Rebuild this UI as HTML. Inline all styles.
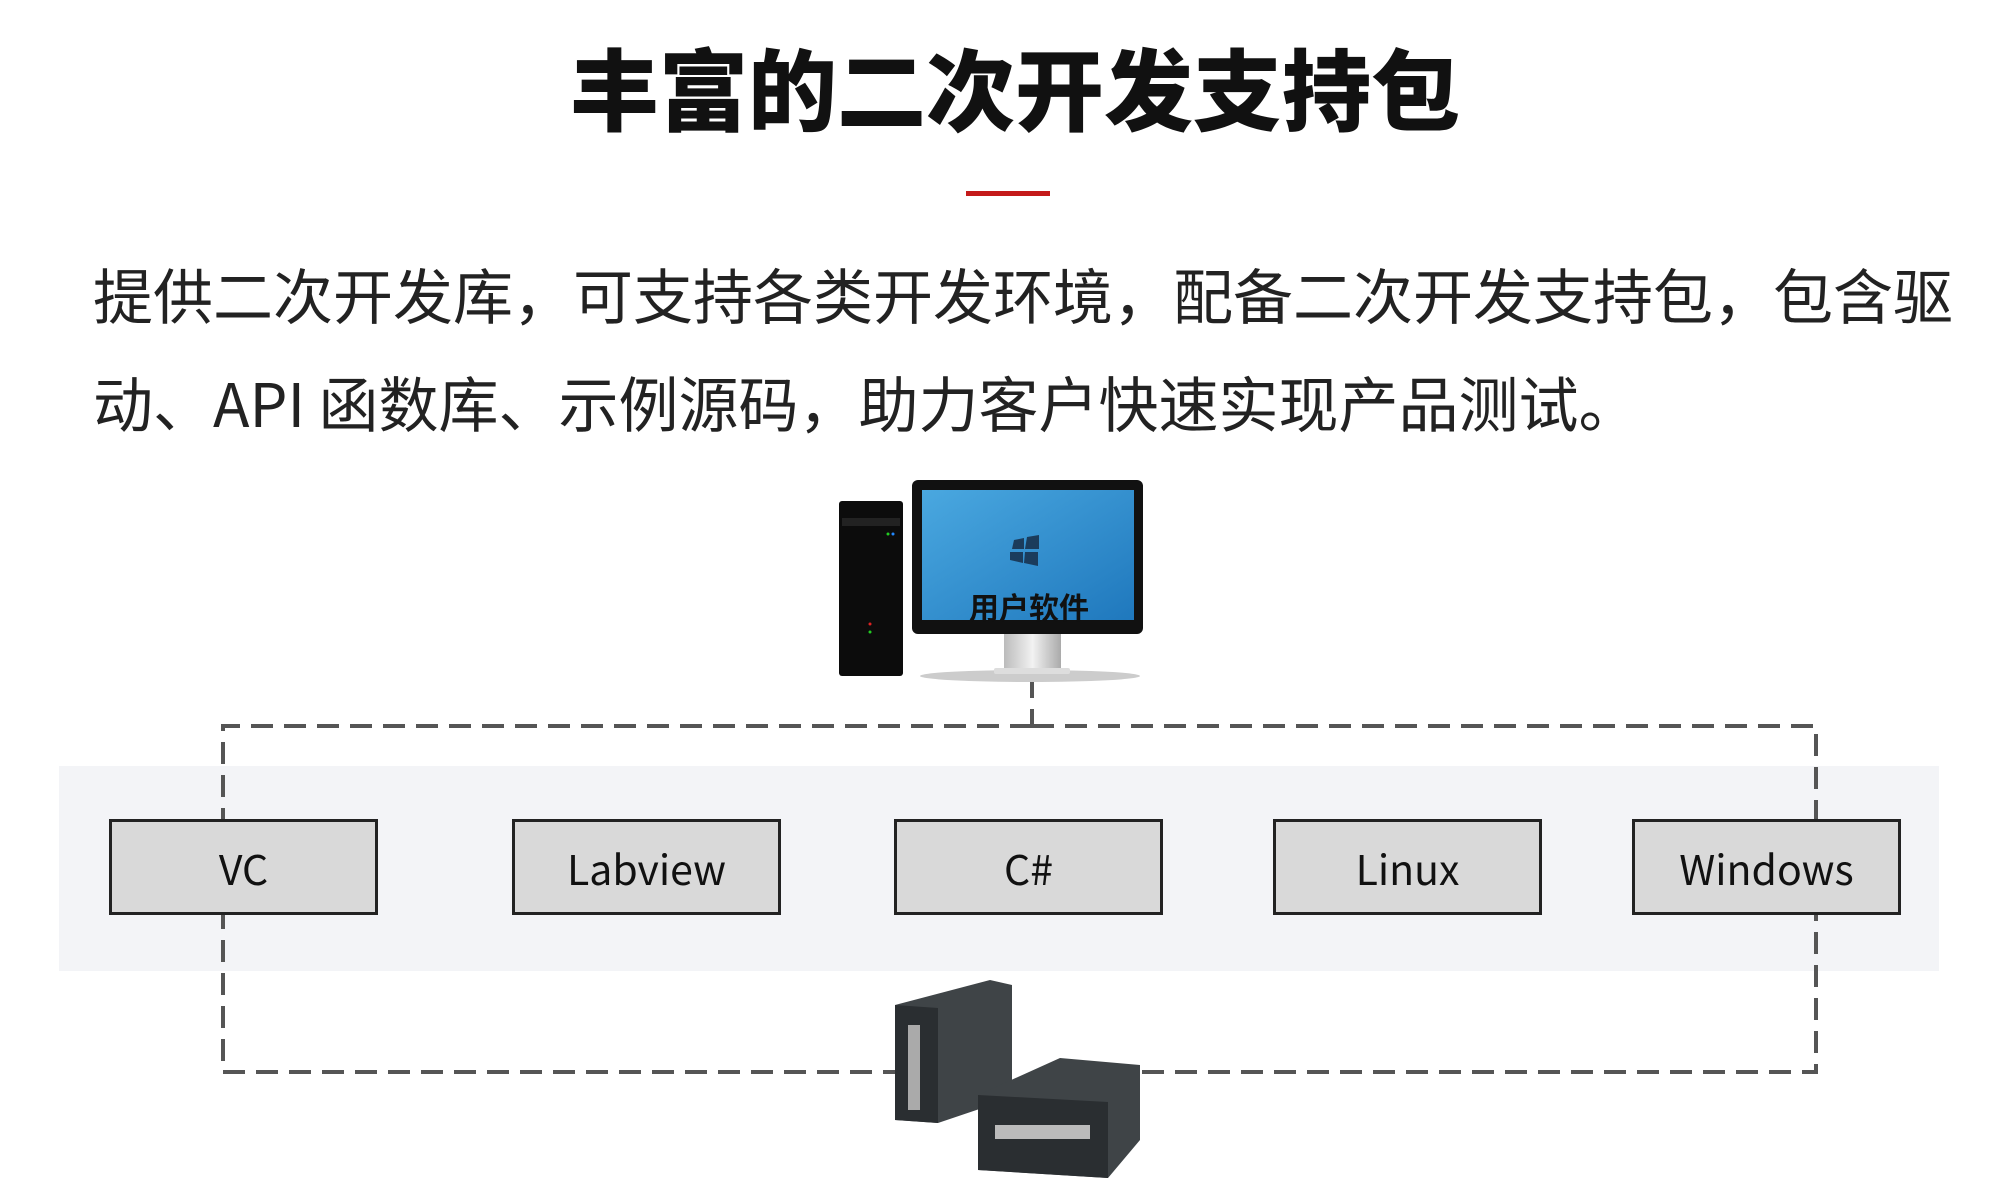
<!DOCTYPE html>
<html><head><meta charset="utf-8"><style>
html,body{margin:0;padding:0;background:#fff;}
body{width:2000px;height:1200px;position:relative;overflow:hidden;font-family:"Liberation Sans","Noto Sans CJK SC",sans-serif;}
.title{position:absolute;left:0;width:2030px;top:38px;text-align:center;font-size:89px;font-weight:900;color:#111;line-height:110px;letter-spacing:0px;}
.red{position:absolute;left:966px;top:191px;width:84px;height:5px;background:#c41a1a;}
.p{position:absolute;left:93px;top:240px;width:1920px;font-size:60px;color:#222;line-height:108px;font-family:"Noto Sans CJK SC",sans-serif;}
.band{position:absolute;left:59px;top:766px;width:1880px;height:205px;background:#f3f4f7;}
.box{position:absolute;top:819px;height:90px;width:263px;background:#d9d9d9;border:3px solid #222;display:flex;align-items:center;justify-content:center;font-size:41px;color:#111;font-family:"Noto Sans CJK SC",sans-serif;}
svg{position:absolute;left:0;top:0;}
</style></head><body>
<div class="title">丰富的二次开发支持包</div>
<div class="red"></div>
<div class="p">提供二次开发库，可支持各类开发环境，配备二次开发支持包，包含驱<br>动、API 函数库、示例源码，助力客户快速实现产品测试。</div>
<div class="band"></div>
<svg width="2000" height="1200">
<g stroke="#555" stroke-width="4" fill="none" stroke-dasharray="22 11">
<path d="M1032 676 V726"/>
<path d="M1032 726 H223 V1072 H895"/>
<path d="M1032 726 H1816 V1072 H1140"/>
</g>
</svg>
<div class="box" style="left:109px">VC</div>
<div class="box" style="left:512px">Labview</div>
<div class="box" style="left:894px">C#</div>
<div class="box" style="left:1273px">Linux</div>
<div class="box" style="left:1632px">Windows</div>
<svg width="2000" height="1200">
<defs>
<linearGradient id="scr" x1="0" y1="0" x2="1" y2="1"><stop offset="0" stop-color="#4aa8e0"/><stop offset="1" stop-color="#1f78bd"/></linearGradient>
<linearGradient id="st" x1="0" y1="0" x2="1" y2="0"><stop offset="0" stop-color="#bbb"/><stop offset=".5" stop-color="#f2f2f2"/><stop offset="1" stop-color="#aaa"/></linearGradient>
</defs>
<ellipse cx="1030" cy="676" rx="110" ry="6" fill="#ccc"/>
<rect x="839" y="501" width="64" height="175" rx="3" fill="#0c0c0c"/>
<rect x="842" y="518" width="58" height="8" fill="#222"/>
<circle cx="888" cy="534" r="1.5" fill="#2c2"/><circle cx="893" cy="534" r="1.5" fill="#28f"/>
<circle cx="870" cy="624" r="1.5" fill="#d22"/><circle cx="870" cy="632" r="1.5" fill="#2c2"/>
<rect x="1004" y="634" width="57" height="38" fill="url(#st)"/>
<rect x="994" y="668" width="76" height="6" rx="2" fill="#ddd"/>
<rect x="912" y="480" width="231" height="154" rx="6" fill="#111"/>
<rect x="922" y="490" width="212" height="130" fill="url(#scr)"/>
<g fill="#1b3c5c"><path d="M1014 540 l10 -2 v11 h-12 z"/><path d="M1027 537 l12 -2 v14 h-14 z"/><path d="M1010 552 h13 v11 l-13 -3 z"/><path d="M1025 552 h13 v14 l-14 -3 z"/></g>
<text x="1029" y="619" text-anchor="middle" font-family="Noto Sans CJK SC,sans-serif" font-weight="bold" font-size="30" fill="#111">用户软件</text>
<polygon points="895,1005 990,980 1012,985 1012,1098 938,1123 895,1120" fill="#3f4447"/>
<polygon points="895,1005 938,1008 938,1123 895,1120" fill="#2a2e31"/>
<rect x="908" y="1025" width="12" height="85" fill="#aaa"/>
<polygon points="978,1095 1060,1058 1140,1065 1140,1140 1108,1178 978,1170" fill="#3f4447"/>
<polygon points="978,1095 1108,1102 1108,1178 978,1170" fill="#2a2e31"/>
<rect x="995" y="1125" width="95" height="14" fill="#bbb"/>
</svg>
</body></html>
